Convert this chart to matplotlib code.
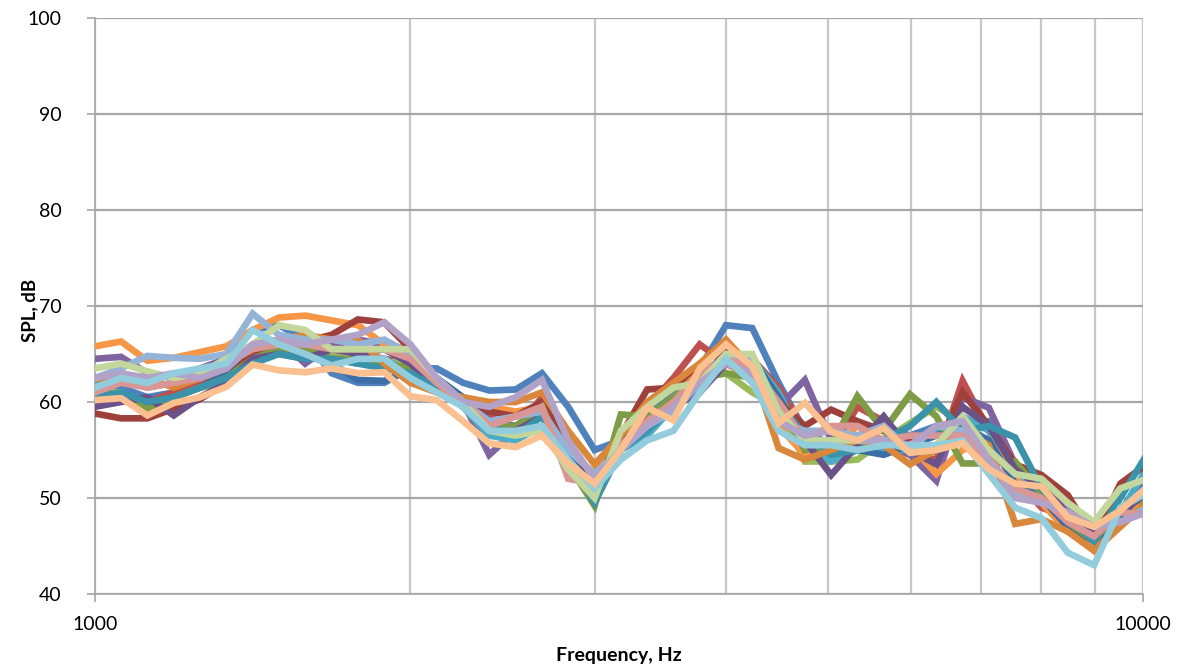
import matplotlib
matplotlib.use("Agg")
from matplotlib import pyplot as plt
from matplotlib.ticker import FixedLocator, NullFormatter, FixedFormatter

# 1/12-octave frequencies, Hz
freq = [1000, 1059, 1122, 1189, 1260, 1335, 1414, 1498, 1587, 1682,
        1782, 1888, 2000, 2119, 2245, 2378, 2520, 2670, 2828, 2997,
        3175, 3364, 3564, 3776, 4000, 4238, 4490, 4757, 5040, 5339,
        5657, 5993, 6350, 6727, 7127, 7551, 8000, 8476, 8980, 9514, 10079]

s01 = [62, 61.5, 60.5, 61, 62.5, 65, 67.5, 68, 66.5, 63, 62, 62, 63.5, 63.5, 62, 61.2, 61.3, 63, 59.5, 55,
       56, 58.5, 61, 63.5, 68, 67.7, 62, 57, 55.5, 56.5, 57.5, 56.5, 57.5, 57.5, 58, 52, 50, 47.5, 46, 48.5, 52]
s02 = [61, 60.5, 60, 61, 62, 63, 65.5, 66, 66.5, 66, 65, 64.5, 64, 62, 60.5, 58.5, 57, 60.5, 56, 51.5,
       55, 59.5, 62.5, 66, 64, 64.5, 61.5, 57, 55, 59.5, 58, 54.5, 54, 62.2, 57, 52, 49, 48, 46.5, 48, 50.5]
s03 = [61, 61, 59.5, 60.5, 61.5, 62, 64.5, 66.5, 66, 65, 64, 64, 64.5, 62, 60, 58, 57, 57.5, 54, 49.3,
       56.5, 58, 60.5, 62.5, 63, 61, 59.5, 53.8, 53.8, 54, 56, 57.8, 59.5, 58, 53.5, 51, 50, 48, 46, 47.5, 50]
s04 = [64.5, 64.7, 63, 62.5, 63.5, 64.5, 65.5, 66.5, 64, 66, 66.5, 66, 65, 62.5, 60, 54.5, 57, 59.5, 55, 51,
       55.5, 58.5, 60, 61, 64.5, 63.5, 59.5, 62.3, 56, 55.5, 55.5, 54.5, 51.8, 60.5, 59.4, 53.5, 51.5, 49.5, 47, 48, 49.5]
s05 = [62, 62.5, 61.5, 62, 63, 63.5, 65, 65.5, 65, 64.5, 64, 64.5, 63, 61.5, 59.5, 56.5, 56, 57.5, 54, 51,
       55, 56.5, 59.5, 62, 65, 64.5, 61, 55.5, 53.8, 55, 55, 55, 57, 58.5, 57, 52, 50.5, 48.5, 46, 48.5, 53]
s06 = [65.8, 66.3, 64.3, 64.6, 65.2, 65.8, 67.5, 68.8, 69, 68.5, 68, 66, 65.5, 62, 60.5, 59.5, 59, 59.5, 55, 52.5,
       56, 59.5, 61.5, 63.5, 64, 62.5, 57.5, 54.5, 55, 57.5, 57, 55.5, 52.5, 55, 56, 52, 49.5, 46.5, 45, 47.5, 50]
s07 = [60, 60.5, 59.8, 60.5, 61.5, 63, 65, 65.5, 65.5, 64, 62.3, 62.2, 63.5, 62.5, 60.5, 58, 57.5, 59, 55, 52,
       55.5, 57.5, 60, 62.5, 65, 64.5, 60.5, 56, 55.5, 55, 54.5, 55.5, 56.5, 57.5, 56, 51.5, 50, 47, 45.5, 48, 51]
s08 = [58.8, 58.3, 58.3, 59.3, 60.3, 62, 65.3, 65.5, 66.3, 67, 68.6, 68.3, 65.5, 62, 60, 59, 58.5, 60, 56, 51,
       56.5, 61.3, 61.5, 64, 65.5, 64, 60, 57.5, 59.2, 58, 57, 56, 55, 61, 57.5, 53.5, 52.4, 50.3, 45.8, 51.5, 53.5]
s09 = [61.5, 60.5, 59.3, 60.5, 61.5, 62.5, 64.5, 65.5, 65.5, 64.5, 64.5, 64, 63.5, 62, 60, 57.5, 57.5, 59.5, 53.5, 49.2,
       58.7, 58.5, 60.5, 62.5, 63, 62.5, 60, 55, 55.5, 60.6, 57, 60.8, 58.5, 53.6, 53.6, 53.8, 50.5, 47.5, 45.5, 49, 50]
s10 = [59.5, 60, 60.5, 58.6, 60.5, 62, 64.5, 65, 64.5, 65.5, 65, 65.5, 64, 61.5, 60, 57, 57, 58.5, 54, 51.5,
       56, 58, 59.5, 61, 64, 63, 60, 56, 52.4, 55.5, 58.5, 55, 53.5, 59.5, 57.5, 53, 51, 48.5, 46.5, 48.5, 50.5]
s11 = [60.5, 61, 60, 60.5, 61.5, 62.5, 64, 65, 64.5, 64.5, 64, 63.5, 63, 61.5, 59.5, 57.5, 56.5, 58.5, 54, 49.5,
       55, 57, 59.5, 62, 64.5, 64, 60, 56.5, 54.5, 55, 56, 57.5, 60, 57, 57.5, 56.3, 51, 48, 45.5, 50, 54.5]
s12 = [62.5, 62, 62.5, 61.5, 62.5, 63.5, 66, 66.5, 67, 66.5, 66.5, 64, 62, 61, 60.5, 60, 60, 61, 57, 53.5,
       56.5, 60, 62, 64, 66.5, 63.5, 55.2, 54, 55, 56, 55.5, 53.5, 55, 57, 55.5, 47.3, 47.8, 46.5, 44.5, 47, 49.5]
s13 = [62.5, 63.5, 64.8, 64.6, 64.5, 65, 69.2, 67, 66.5, 66.5, 66, 66.5, 65, 62.5, 60, 58, 58.5, 59, 55, 52.5,
       55, 57.5, 59, 62, 65, 64.5, 58, 57, 57, 56.5, 57.5, 55, 57.5, 57, 54, 50.5, 49.5, 48.5, 47, 47.5, 49]
s14 = [61, 62, 61.5, 62, 62.5, 64, 65.5, 66, 66, 65.5, 65.5, 65.5, 64.5, 62, 60, 57.5, 58.5, 59.5, 52, 51.5,
       55.5, 58, 60, 63, 64.5, 63.5, 60, 56, 57.5, 57.5, 56, 56.5, 56.5, 56.5, 54, 51, 50, 47.5, 46, 48.5, 48.3]
s15 = [63.5, 64, 63.2, 62.5, 63, 64.5, 66, 68, 67.5, 65.5, 65.5, 65.5, 65.5, 62.5, 60, 57, 56.5, 57, 53, 50,
       57, 59.5, 61.5, 62, 65, 65, 59, 56, 56, 56, 56, 55, 55.5, 58.5, 55, 52.5, 52, 49.5, 47.5, 51, 52]
s16 = [62.5, 63, 62.5, 63, 62.5, 63.5, 66, 66.5, 66, 66.5, 67, 68.3, 66, 62.5, 60, 59.5, 60.5, 62.3, 56, 52,
       55, 57.5, 59.5, 62, 64, 63, 58, 56.5, 57, 56, 56, 55.5, 57.5, 58, 54, 50, 49.5, 48.5, 47, 47.5, 48.5]
s17 = [61.5, 62.5, 62, 63, 63.5, 64, 67.5, 66, 65, 63.8, 64.5, 64.5, 62.5, 61, 59.5, 57, 57, 57.5, 54, 51,
       54, 56, 57, 61, 64.5, 62, 57, 55.5, 55.5, 55, 55.5, 55.5, 55.5, 56, 52.5, 49, 47.9, 44.3, 43, 49, 50.5]
s18 = [60.2, 60.4, 58.6, 59.9, 60.5, 61.6, 63.9, 63.3, 63.1, 63.5, 63, 63.1, 60.6, 60.2, 58, 55.7, 55.3, 56.5, 53.6, 51.5,
       55, 59.4, 58.1, 63.5, 66, 63.7, 57.8, 59.9, 56.9, 56, 57.3, 54.7, 55, 55.7, 53, 51.5, 51.2, 48, 47, 48.7, 51.1]

series = [s01, s02, s03, s04, s05, s06, s07, s08, s09, s10, s11, s12, s13, s14, s15, s16, s17, s18]
colors = ['#4F81BD', '#C0504D', '#9BBB59', '#8064A2', '#4BACC6', '#F79646',
          '#3C6DA6', '#9E413C', '#7E9B45', '#6A5289', '#3A93AA', '#D9873A',
          '#95B3D7', '#D99694', '#C3D69B', '#B3A2C7', '#93CDDD', '#FAC090']

fig = plt.figure(figsize=(11.84, 6.68), dpi=100)
ax = fig.add_axes([0.0802, 0.1108, 0.8852, 0.8622])

for vals, c in zip(series, colors):
    ax.plot(freq, vals, color=c, lw=4.8, solid_joinstyle='miter', zorder=3)

ax.set_xscale('log')
ax.set_xlim(1000, 10000)
ax.set_ylim(40, 100)

ax.xaxis.set_major_locator(FixedLocator([1000, 10000]))
ax.xaxis.set_major_formatter(FixedFormatter(['1000', '10000']))
ax.xaxis.set_minor_locator(FixedLocator([2000, 3000, 4000, 5000, 6000, 7000, 8000, 9000]))
ax.xaxis.set_minor_formatter(NullFormatter())
ax.set_yticks(range(40, 101, 10))

ax.grid(True, which='major', axis='y', color='#A6A6A6', lw=1.6, zorder=1)
ax.grid(True, which='both', axis='x', color='#C8C8C8', lw=1.6, zorder=1)

for s in ['top', 'right']:
    ax.spines[s].set_visible(False)
for s in ['left', 'bottom']:
    ax.spines[s].set_color('#A6A6A6')
    ax.spines[s].set_linewidth(1.2)

ax.tick_params(axis='both', which='major', color='#A6A6A6', length=6, width=1.2,
               labelsize=14, labelcolor='black')
ax.tick_params(axis='y', which='major', pad=18)
ax.tick_params(axis='x', which='major', pad=10)
ax.tick_params(axis='x', which='minor', length=0)

for lab in ax.get_xticklabels() + ax.get_yticklabels():
    lab.set_family('Lato')

fig.text(619 / 1184, 1 - 655 / 668, 'Frequency, Hz', fontsize=14, fontweight='bold',
         family='Lato', ha='center', va='center')
fig.text(30 / 1184, 1 - 310 / 668, 'SPL, dB', fontsize=13.5, fontweight='bold',
         family='Lato', ha='center', va='center', rotation=90)

fig.savefig('out.png', dpi=100)
